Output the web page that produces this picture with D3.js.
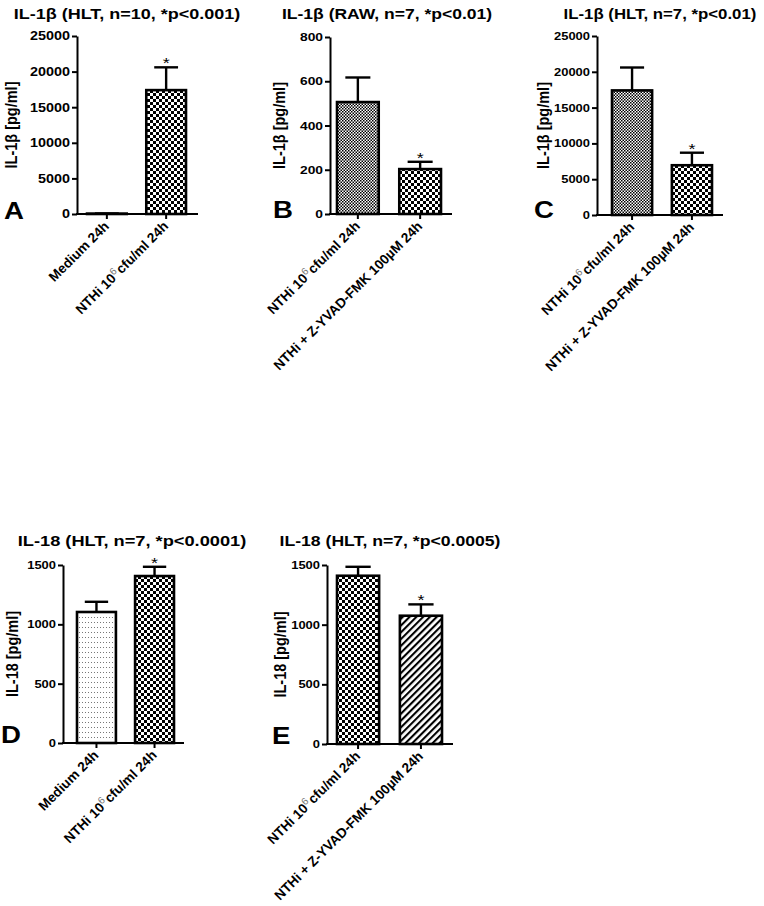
<!DOCTYPE html>
<html><head><meta charset="utf-8">
<script src="https://cdn.jsdelivr.net/npm/d3@7"></script>
<style>body{margin:0;background:#fff} text{font-family:"Liberation Sans",Arial,Helvetica,sans-serif}</style>
</head><body>
<svg id="chart" width="764" height="906"></svg>
<script>
// ---------------- data ----------------
const panelLetters = ["A", "B", "C", "D", "E"];
const titles = [
  "IL-1β (HLT, n=10, *p<0.001)",
  "IL-1β (RAW, n=7, *p<0.01)",
  "IL-1β (HLT, n=7, *p<0.01)",
  "IL-18 (HLT, n=7, *p<0.0001)",
  "IL-18 (HLT, n=7, *p<0.0005)"
];
const yAxisTitles = ["IL-1β [pg/ml]", "IL-1β [pg/ml]", "IL-1β [pg/ml]", "IL-18 [pg/ml]", "IL-18 [pg/ml]"];

const catsA = ["Medium 24h", "NTHi 10⁶cfu/ml 24h"];
const catsB = ["NTHi 10⁶cfu/ml 24h", "NTHi + Z-YVAD-FMK 100µM 24h"];
const catsC = ["NTHi 10⁶cfu/ml 24h", "NTHi + Z-YVAD-FMK 100µM 24h"];
const catsD = ["Medium 24h", "NTHi 10⁶cfu/ml 24h"];
const catsE = ["NTHi 10⁶cfu/ml 24h", "NTHi + Z-YVAD-FMK 100µM 24h"];

const meansA = [60, 17400];   const semA = [10, 3200];
const meansB = [506, 203];    const semB = [111, 33];
const meansC = [17400, 6950]; const semC = [3200, 1750];
const meansD = [1104, 1407];  const semD = [86, 78];
const meansE = [1410, 1075];  const semE = [75, 95];

const sigA = [false, true];
const sigB = [false, true];
const sigC = [false, true];
const sigD = [false, true];
const sigE = [false, true];

const ticksA = [0, 5000, 10000, 15000, 20000, 25000];
const ticksB = [0, 200, 400, 600, 800];
const ticksC = [0, 5000, 10000, 15000, 20000, 25000];
const ticksD = [0, 500, 1000, 1500];
const ticksE = [0, 500, 1000, 1500];

const fillsA = ["none", "checker"];
const fillsB = ["fine", "checker"];
const fillsC = ["fine", "checker"];
const fillsD = ["dots", "checker"];
const fillsE = ["checker", "hatch"];

// ---------------- layout ----------------
const layout = [
  {ox: 77,  xEnd: 198, yTop: 36,  yBot: 214, b0: 87,  b1: 186, tx: 127, ty: 19,  tf: 15,   lx: 4,   ly: 219, yl: 17,  kf: 12},
  {ox: 330, xEnd: 452, yTop: 37,  yBot: 214, b0: 337, b1: 441, tx: 387, ty: 19,  tf: 14.6, lx: 273, ly: 218, yl: 285, kf: 11.5},
  {ox: 597, xEnd: 723, yTop: 36,  yBot: 215, b0: 612, b1: 712, tx: 660, ty: 19,  tf: 14,   lx: 534, ly: 218, yl: 549, kf: 10.8},
  {ox: 63,  xEnd: 184, yTop: 565, yBot: 743, b0: 77,  b1: 174, tx: 132, ty: 546, tf: 15.2, lx: 1,   ly: 743, yl: 18,  kf: 10.8},
  {ox: 327, xEnd: 453, yTop: 565, yBot: 744, b0: 337, b1: 442, tx: 390, ty: 546, tf: 14.7, lx: 272, ly: 744, yl: 286, kf: 10.8}
];
const SX = 1.2; // horizontal text stretch of the original figure

const panels = [
  {cats: catsA, means: meansA, sem: semA, sig: sigA, ticks: ticksA, fills: fillsA},
  {cats: catsB, means: meansB, sem: semB, sig: sigB, ticks: ticksB, fills: fillsB},
  {cats: catsC, means: meansC, sem: semC, sig: sigC, ticks: ticksC, fills: fillsC},
  {cats: catsD, means: meansD, sem: semD, sig: sigD, ticks: ticksD, fills: fillsD},
  {cats: catsE, means: meansE, sem: semE, sig: sigE, ticks: ticksE, fills: fillsE}
];

const svg = d3.select("#chart");
svg.append("rect").attr("width", 764).attr("height", 906).attr("fill", "#fff");

// ---------------- patterns ----------------
const defs = svg.append("defs");
function pat(id, w, h) {
  const p = defs.append("pattern").attr("id", id).attr("patternUnits", "userSpaceOnUse")
    .attr("width", w).attr("height", h);
  p.append("rect").attr("width", w).attr("height", h).attr("fill", "#fff");
  return p;
}
let p = pat("checker", 6, 6);
p.append("rect").attr("x", 0).attr("y", 0).attr("width", 3).attr("height", 3).attr("fill", "#000");
p.append("rect").attr("x", 3).attr("y", 3).attr("width", 3).attr("height", 3).attr("fill", "#000");
p = pat("fine", 3, 3);
p.append("rect").attr("x", 0).attr("y", 0).attr("width", 1.5).attr("height", 1.5).attr("fill", "#000");
p.append("rect").attr("x", 1.5).attr("y", 1.5).attr("width", 1.5).attr("height", 1.5).attr("fill", "#000");
p = pat("dots", 3, 5);
p.append("rect").attr("x", 1).attr("y", 2).attr("width", 1).attr("height", 1).attr("fill", "#777");
p = pat("hatch", 4.8, 4.8).attr("patternTransform", "rotate(45)");
p.append("rect").attr("x", 0).attr("y", 0).attr("width", 2.1).attr("height", 4.8).attr("fill", "#000");

function fillFor(f) { return f === "none" ? "#fff" : `url(#${f})`; }

// ---------------- draw ----------------
panels.forEach((pd, i) => {
  const L = layout[i];
  const g = svg.append("g");
  const yMax = pd.ticks[pd.ticks.length - 1];
  const y = d3.scaleLinear().domain([0, yMax]).range([L.yBot, L.yTop]);
  const x = d3.scaleBand().domain(pd.cats).range([L.b0, L.b1]).paddingInner(0.33).paddingOuter(0);
  const bw = x.bandwidth();

  // title
  g.append("text").attr("text-anchor", "middle").attr("font-weight", "bold").attr("font-size", L.tf)
    .attr("transform", `translate(${L.tx},${L.ty}) scale(${SX},1)`).text(titles[i]);
  // panel letter
  g.append("text").attr("font-weight", "bold").attr("font-size", 23)
    .attr("transform", `translate(${L.lx},${L.ly}) scale(${SX},1)`).text(panelLetters[i]);
  // y axis title
  g.append("text").attr("text-anchor", "middle").attr("font-weight", "bold").attr("font-size", 14.5)
    .attr("transform", `translate(${L.yl},${(L.yTop + L.yBot) / 2}) scale(${SX},1) rotate(-90)`)
    .text(yAxisTitles[i]);

  // bars
  g.selectAll("rect.bar").data(pd.cats).join("rect").attr("class", "bar")
    .attr("x", d => x(d)).attr("width", bw)
    .attr("y", (d, j) => y(pd.means[j]))
    .attr("height", (d, j) => L.yBot - y(pd.means[j]))
    .attr("fill", (d, j) => fillFor(pd.fills[j]))
    .attr("stroke", "#000").attr("stroke-width", 2.6);

  // error bars
  pd.cats.forEach((c, j) => {
    const cx = x(c) + bw / 2;
    const yt = y(pd.means[j] + pd.sem[j]);
    const cap = bw * 0.3;
    g.append("line").attr("x1", cx).attr("x2", cx).attr("y1", y(pd.means[j])).attr("y2", yt)
      .attr("stroke", "#000").attr("stroke-width", 2.4);
    g.append("line").attr("x1", cx - cap).attr("x2", cx + cap).attr("y1", yt).attr("y2", yt)
      .attr("stroke", "#000").attr("stroke-width", 2.4);
    if (pd.sig[j]) {
      g.append("text").attr("text-anchor", "middle").attr("font-size", 15)
        .attr("transform", `translate(${cx},${yt + 1}) scale(${SX},1)`).text("*");
    }
  });

  // y axis
  const ya = g.append("g").attr("transform", `translate(${L.ox},0)`)
    .call(d3.axisLeft(y).tickValues(pd.ticks).tickSize(5).tickSizeOuter(0).tickPadding(3).tickFormat(d3.format("d")));
  ya.select(".domain").attr("stroke-width", 2);
  ya.selectAll(".tick line").attr("stroke-width", 2);
  ya.selectAll(".tick text").attr("font-weight", "bold").attr("font-size", L.kf)
    .attr("font-family", "'Liberation Sans',Arial,sans-serif").attr("fill", "#000")
    .attr("x", -7 / SX).attr("transform", `scale(${SX},1)`);

  // x axis
  const xa = g.append("g").attr("transform", `translate(0,${L.yBot})`)
    .call(d3.axisBottom(x).tickSize(5).tickSizeOuter(0).tickFormat(""));
  xa.select(".domain").remove();
  xa.selectAll(".tick line").attr("stroke-width", 2);
  g.append("line").attr("x1", L.ox - 1).attr("x2", L.xEnd).attr("y1", L.yBot).attr("y2", L.yBot)
    .attr("stroke", "#000").attr("stroke-width", 2);

  // category labels
  pd.cats.forEach(c => {
    const cx = x(c) + bw / 2;
    const t = g.append("text").attr("text-anchor", "end").attr("font-weight", "bold").attr("font-size", 13.6)
      .attr("transform", `translate(${cx + 3},${L.yBot + 13}) rotate(-45)`);
    const parts = c.split("⁶");
    t.append("tspan").text(parts[0]);
    if (parts.length > 1) {
      t.append("tspan").attr("dy", -5).attr("font-size", 10).attr("font-weight", "normal")
        .attr("fill", "#777").text("6");
      t.append("tspan").attr("dy", 5).attr("dx", 1).text(parts[1]);
    }
  });
});
</script>
</body></html>
